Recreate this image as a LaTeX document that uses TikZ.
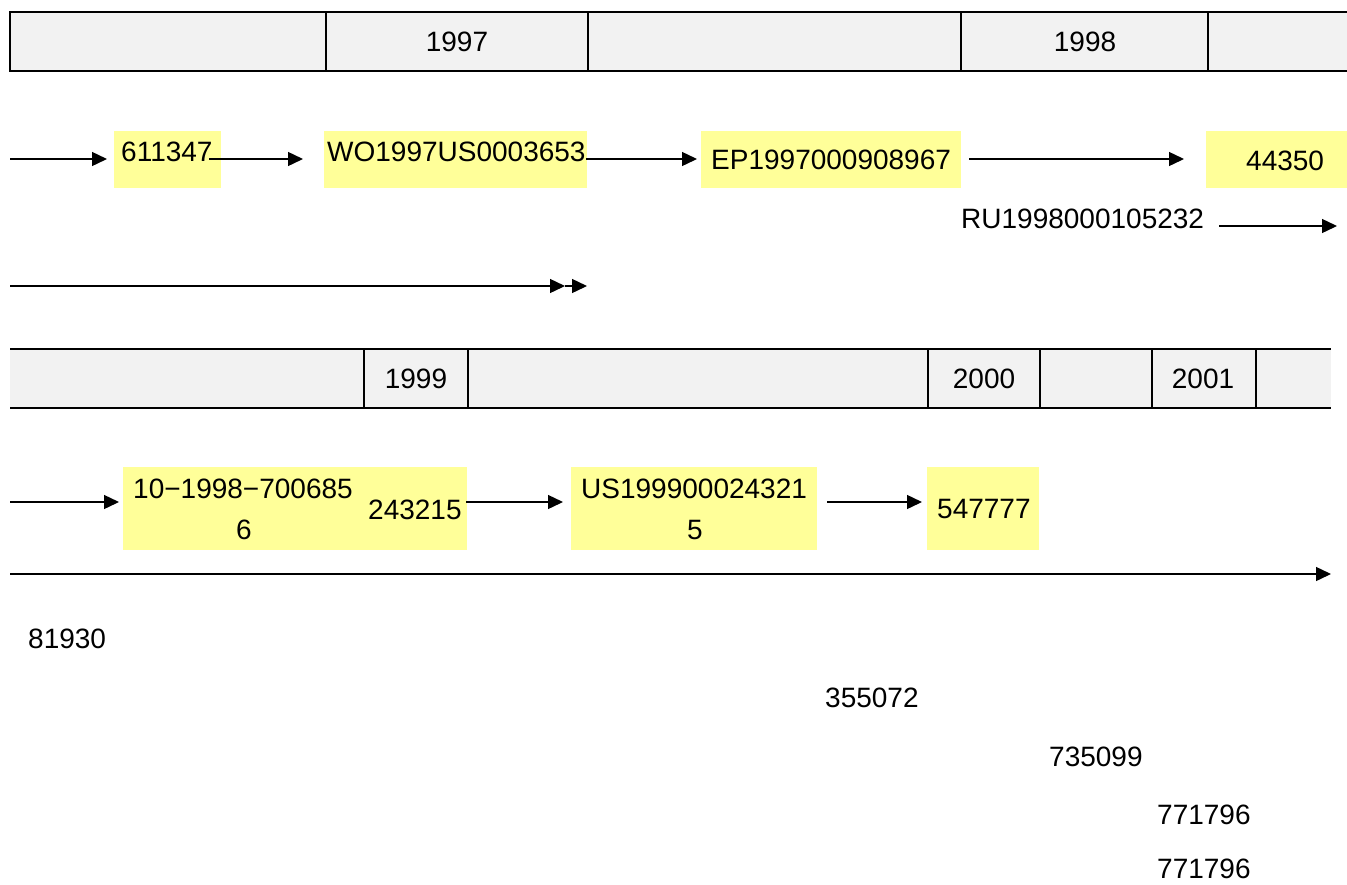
\documentclass[tikz,border=0pt]{standalone}
\usepackage{fontspec}
\setmainfont{Liberation Sans}
\usetikzlibrary{arrows.meta}
\definecolor{boxyellow}{HTML}{FFFF99}
\definecolor{bandgray}{HTML}{F2F2F2}
\begin{document}
\begin{tikzpicture}[x=1pt,y=-1pt,
  every node/.style={font=\fontsize{28}{33}\selectfont, inner sep=0pt},
  ybox/.style={fill=boxyellow, draw=none, anchor=north west},
  txt/.style={anchor=west},
  ctxt/.style={anchor=center},
  band/.style={line width=2pt},
  conn/.style={line width=1.4pt, -{Triangle[length=15pt,width=14pt]}}]
\useasboundingbox (0,0) rectangle (1347,884);

% ---- top band
\fill[bandgray] (10,12) rectangle (1347,71);
\draw[band] (1347,12) -- (10,12) -- (10,71) -- (1347,71);
\foreach \x in {326,588,961,1208} \draw[band] (\x,12) -- (\x,71);
\node[ctxt] (y1997) at (457,42) {1997};
\node[ctxt] (y1998) at (1085,42) {1998};

% ---- row 1 boxes
\node[ybox, minimum width=107pt, minimum height=57pt] (b611) at (114,131) {};
\node[ybox, minimum width=263pt, minimum height=57pt] (bwo) at (324,131) {};
\node[ybox, minimum width=260pt, minimum height=57pt] (bep) at (701,131) {};
\node[ybox, minimum width=141pt, minimum height=57pt] (b443) at (1206,131) {};
\node[txt] (t611) at (121,152) {611347};
\node[txt] (two) at (327,152) {WO1997US0003653};
\node[txt] (tep) at (711,160) {EP1997000908967};
\node[txt] (t443) at (1246,161) {44350};
\node[txt] (tru) at (961,219) {RU1998000105232};

\coordinate (a0s) at (10,159);
\coordinate (a0e) at (107,159);
\draw[conn] (a0s) -- (a0e);
\coordinate (a1s) at (209,159);
\coordinate (a1e) at (303,159);
\draw[conn] (a1s) -- (a1e);
\coordinate (a2s) at (586,159);
\coordinate (a2e) at (697,159);
\draw[conn] (a2s) -- (a2e);
\coordinate (a3s) at (969,159);
\coordinate (a3e) at (1184,159);
\draw[conn] (a3s) -- (a3e);
\coordinate (a4s) at (1219,226);
\coordinate (a4e) at (1337,226);
\draw[conn] (a4s) -- (a4e);

% double arrow
\coordinate (d0s) at (10,286);
\coordinate (d0m) at (565,286);
\coordinate (d0e) at (587,286);
\draw[conn] (d0s) -- (d0m);
\draw[conn] (d0m) -- (d0e);

% ---- second band
\fill[bandgray] (10,349) rectangle (1331,408);
\draw[band] (10,349) -- (1331,349);
\draw[band] (10,408) -- (1331,408);
\foreach \x in {364,468,928,1040,1152,1256} \draw[band] (\x,349) -- (\x,408);
\node[ctxt] (y1999) at (416,379) {1999};
\node[ctxt] (y2000) at (984,379) {2000};
\node[ctxt] (y2001) at (1203,379) {2001};

% ---- row 2 boxes
\node[ybox, minimum width=344pt, minimum height=83pt] (bkr) at (123,467) {};
\node[ybox, minimum width=246pt, minimum height=83pt] (bus) at (571,467) {};
\node[ybox, minimum width=112pt, minimum height=83pt] (b547) at (927,467) {};
\node[txt] (tkr) at (133,489) {10−1998−700685};
\node[ctxt] (tkr6) at (244,530) {6};
\node[txt] (t243) at (368,510) {243215};
\node[txt] (tus) at (581,489) {US199900024321};
\node[ctxt] (tus5) at (695,530) {5};
\node[txt] (t547) at (937,509) {547777};

\coordinate (c0s) at (10,502);
\coordinate (c0e) at (119,502);
\draw[conn] (c0s) -- (c0e);
\coordinate (c1s) at (466,502);
\coordinate (c1e) at (563,502);
\draw[conn] (c1s) -- (c1e);
\coordinate (c2s) at (827,502);
\coordinate (c2e) at (922,502);
\draw[conn] (c2s) -- (c2e);

\coordinate (l0s) at (10,574);
\coordinate (l0e) at (1331,574);
\draw[conn] (l0s) -- (l0e);

% ---- bottom labels
\node[txt] (n1) at (28,639) {81930};
\node[txt] (n2) at (825,698) {355072};
\node[txt] (n3) at (1049,757) {735099};
\node[txt] (n4) at (1157,815) {771796};
\node[txt] (n5) at (1157,869) {771796};
\end{tikzpicture}
\end{document}
